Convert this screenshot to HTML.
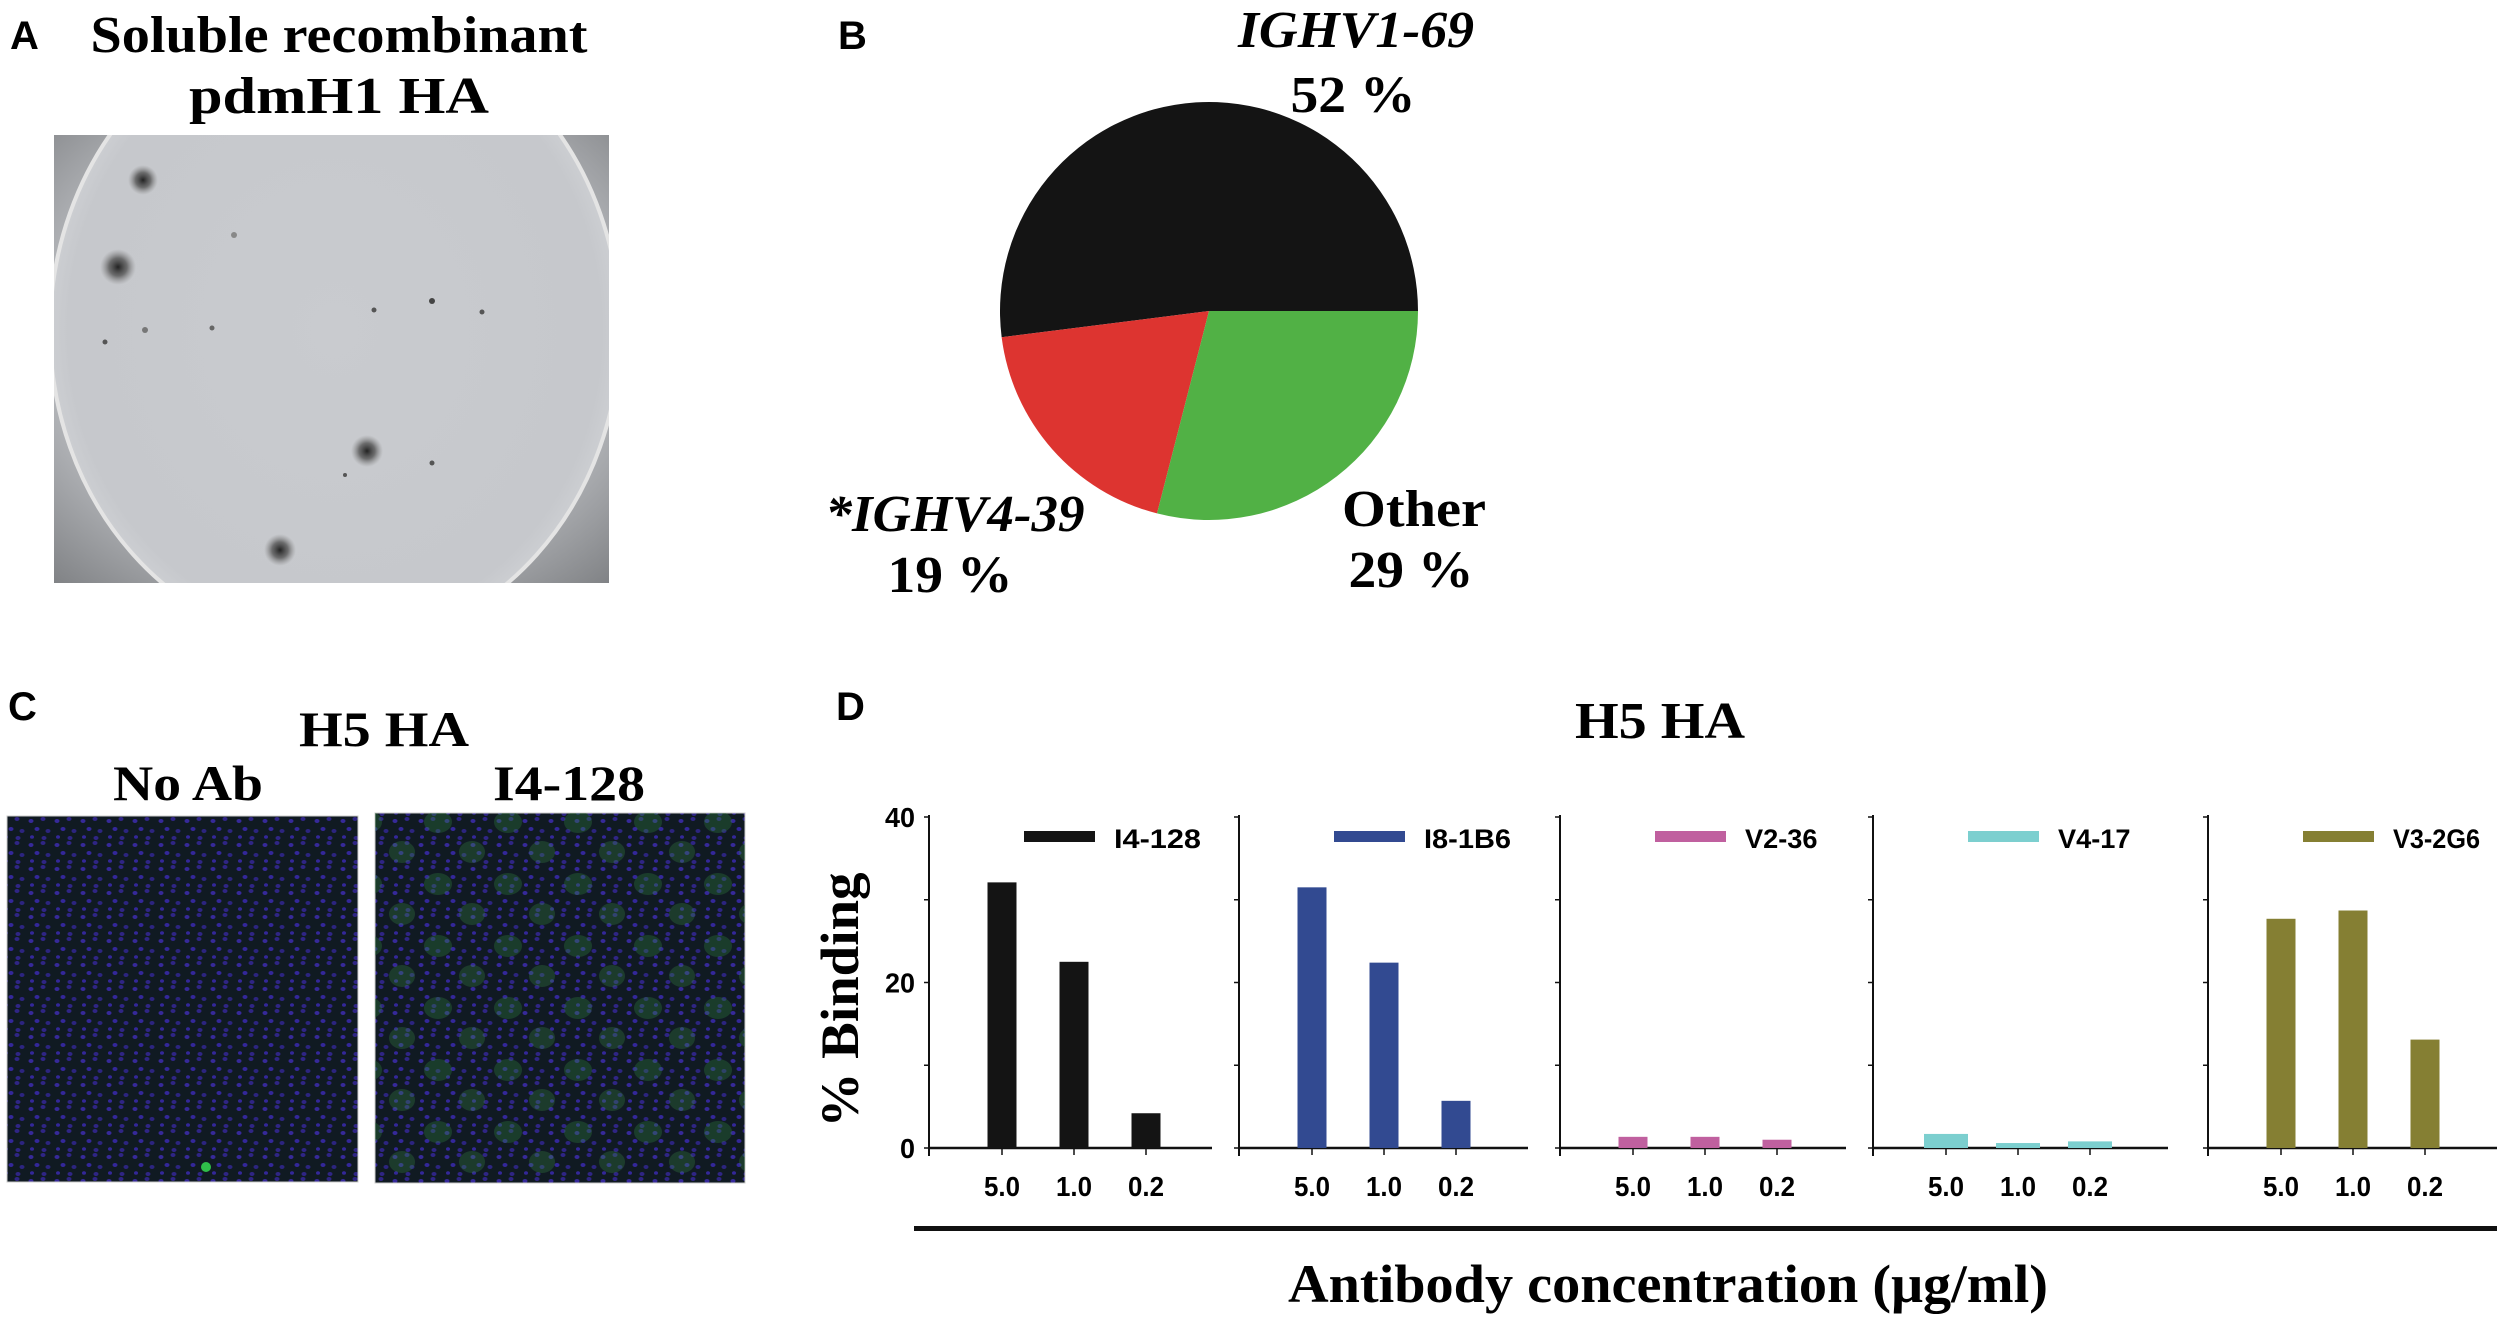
<!DOCTYPE html>
<html><head><meta charset="utf-8"><style>
html,body{margin:0;padding:0;background:#fff;}
svg{display:block;}
.serif{font-family:"Liberation Serif",serif;font-weight:bold;}
.sans{font-family:"Liberation Sans",sans-serif;font-weight:bold;}
</style></head><body>
<svg id="fig" width="2500" height="1317" viewBox="0 0 2500 1317" xmlns="http://www.w3.org/2000/svg">
<defs>
<radialGradient id="spot"><stop offset="0" stop-color="#222"/><stop offset="0.5" stop-color="#555" stop-opacity="0.8"/><stop offset="1" stop-color="#888" stop-opacity="0"/></radialGradient>
<radialGradient id="plate" cx="0.5" cy="0.5" r="0.55"><stop offset="0" stop-color="#c9cbcf"/><stop offset="0.85" stop-color="#c6c8cc"/><stop offset="1" stop-color="#d6d8db"/></radialGradient>
<radialGradient id="bgph" cx="0.5" cy="0.45" r="0.75"><stop offset="0.6" stop-color="#c0c2c6"/><stop offset="1" stop-color="#7f8184"/></radialGradient>
<clipPath id="photoClip"><rect x="54" y="135" width="555" height="448"/></clipPath>
<pattern id="nuclei" width="26" height="24" patternUnits="userSpaceOnUse">
<rect width="26" height="24" fill="#101a22"/>
<ellipse cx="5" cy="5" rx="2.5" ry="2" fill="#36299a"/><ellipse cx="17" cy="3" rx="2.5" ry="2" fill="#2f2585"/>
<ellipse cx="11" cy="13" rx="2.5" ry="2" fill="#33279a"/><ellipse cx="22" cy="15" rx="2.5" ry="2" fill="#2c2480"/>
<ellipse cx="6" cy="21" rx="2" ry="1.8" fill="#33279a"/><ellipse cx="18" cy="22" rx="2.5" ry="2" fill="#2f2585"/>
</pattern>
<pattern id="green" width="70" height="62" patternUnits="userSpaceOnUse">
<ellipse cx="18" cy="16" rx="14" ry="11" fill="#2f7a3c" opacity="0.35"/>
<ellipse cx="52" cy="46" rx="13" ry="11" fill="#3a8a44" opacity="0.3"/>
</pattern>
</defs>

<!-- Panel A -->
<text class="sans" x="10" y="49" font-size="40">A</text>
<text class="serif" x="339" y="52" font-size="52" text-anchor="middle" textLength="497" lengthAdjust="spacingAndGlyphs">Soluble recombinant</text>
<text class="serif" x="339" y="113" font-size="52" text-anchor="middle" textLength="300" lengthAdjust="spacingAndGlyphs">pdmH1 HA</text>
<g clip-path="url(#photoClip)">
<rect x="54" y="135" width="555" height="448" fill="url(#bgph)"/>
<ellipse cx="335" cy="330" rx="285" ry="318" fill="url(#plate)" stroke="#e4e4e4" stroke-width="4"/>
<circle cx="143" cy="180" r="15" fill="url(#spot)"/>
<circle cx="118" cy="267" r="18" fill="url(#spot)"/>
<circle cx="367" cy="451" r="16" fill="url(#spot)"/>
<circle cx="280" cy="550" r="16" fill="url(#spot)"/>
<circle cx="432" cy="301" r="3" fill="#444"/><circle cx="374" cy="310" r="2.5" fill="#555"/><circle cx="482" cy="312" r="2.5" fill="#555"/>
<circle cx="105" cy="342" r="2.5" fill="#555"/><circle cx="212" cy="328" r="2.5" fill="#666"/><circle cx="145" cy="330" r="3" fill="#777"/>
<circle cx="432" cy="463" r="2.5" fill="#555"/><circle cx="345" cy="475" r="2" fill="#555"/><circle cx="234" cy="235" r="3" fill="#888"/>
</g>

<!-- Panel B -->
<text class="sans" x="838" y="49" font-size="40">B</text>
<g id="pie"></g>
<text class="serif" x="1356" y="47" font-size="52" font-style="italic" text-anchor="middle" textLength="236" lengthAdjust="spacingAndGlyphs">IGHV1-69</text>
<text class="serif" x="1353" y="112" font-size="52" text-anchor="middle" textLength="125" lengthAdjust="spacingAndGlyphs">52 %</text>
<text class="serif" x="955" y="531" font-size="52" font-style="italic" text-anchor="middle" textLength="259" lengthAdjust="spacingAndGlyphs">*IGHV4-39</text>
<text class="serif" x="950" y="592" font-size="52" text-anchor="middle" textLength="125" lengthAdjust="spacingAndGlyphs">19 %</text>
<text class="serif" x="1414" y="526" font-size="52" text-anchor="middle" textLength="144" lengthAdjust="spacingAndGlyphs">Other</text>
<text class="serif" x="1411" y="587" font-size="52" text-anchor="middle" textLength="125" lengthAdjust="spacingAndGlyphs">29 %</text>

<!-- Panel C -->
<text class="sans" x="8" y="720" font-size="40">C</text>
<text class="serif" x="384" y="746" font-size="50" text-anchor="middle" textLength="170" lengthAdjust="spacingAndGlyphs">H5 HA</text>
<text class="serif" x="188" y="800" font-size="50" text-anchor="middle" textLength="150" lengthAdjust="spacingAndGlyphs">No Ab</text>
<text class="serif" x="569" y="800" font-size="50" text-anchor="middle" textLength="152" lengthAdjust="spacingAndGlyphs">I4-128</text>
<g>
<rect x="7" y="816" width="351" height="366" fill="url(#nuclei)" stroke="#ccc" stroke-width="1"/>
<circle cx="206" cy="1167" r="5" fill="#2fbf4a"/>
</g>
<g>
<rect x="375" y="813" width="370" height="370" fill="url(#nuclei)" stroke="#ccc" stroke-width="1"/>
<rect x="375" y="813" width="370" height="370" fill="url(#green)"/>
</g>

<!-- Panel D -->
<text class="sans" x="836" y="720" font-size="40">D</text>
<text class="serif" x="1660" y="738" font-size="52" text-anchor="middle" textLength="170" lengthAdjust="spacingAndGlyphs">H5 HA</text>
<text class="serif" transform="translate(858,1000) rotate(-90)" font-size="54" text-anchor="middle" textLength="255" lengthAdjust="spacingAndGlyphs">% Binding</text>
<g id="chart"></g>
<rect x="914" y="1226" width="1583" height="5" fill="#111"/>
<text class="serif" x="1668" y="1302" font-size="54" text-anchor="middle" textLength="760" lengthAdjust="spacingAndGlyphs">Antibody concentration (μg/ml)</text>
</svg>
<script>
const NS = "http://www.w3.org/2000/svg";
// Pie data
const pieLabels = ["IGHV1-69", "IGHV4-39", "Other"];
const pieValues = [52, 19, 29];
const pieColors = ["#141414", "#dd3430", "#51b145"];
// Bar chart data
const antibodies = ["I4-128", "I8-1B6", "V2-36", "V4-17", "V3-2G6"];
const concentrations = ["5.0", "1.0", "0.2"];
const binding_I4_128 = [32.1, 22.5, 4.2];
const binding_I8_1B6 = [31.5, 22.4, 5.7];
const binding_V2_36 = [1.35, 1.35, 1.0];
const binding_V4_17 = [1.7, 0.6, 0.8];
const binding_V3_2G6 = [27.7, 28.7, 13.1];
const yTicks = [0, 20, 40];
const seriesValues = [binding_I4_128, binding_I8_1B6, binding_V2_36, binding_V4_17, binding_V3_2G6];
const seriesColors = ["#141414", "#324a91", "#c0609f", "#7ccfcf", "#857f33"];

function mk(tag, attrs, parent){const e=document.createElementNS(NS,tag);for(const k in attrs)e.setAttribute(k,attrs[k]);parent.appendChild(e);return e;}

// Pie
(function(){
  const g=document.getElementById('pie');
  const cx=1209, cy=311, r=209;
  const total=pieValues.reduce((a,b)=>a+b,0);
  let a0=0;
  pieValues.forEach((v,i)=>{
    const a1=a0+v/total*360;
    const p0=[cx+r*Math.cos(a0*Math.PI/180), cy-r*Math.sin(a0*Math.PI/180)];
    const p1=[cx+r*Math.cos(a1*Math.PI/180), cy-r*Math.sin(a1*Math.PI/180)];
    const large=(a1-a0)>180?1:0;
    const p=mk('path',{d:`M${cx},${cy} L${p0[0]},${p0[1]} A${r},${r} 0 ${large} 0 ${p1[0]},${p1[1]} Z`,fill:pieColors[i]},g);
    
    
    a0=a1;
  });
})();

// Bars
(function(){
  const g=document.getElementById('chart');
  const axisX=[929,1239,1560,1873,2208];
  const axisEnd=[1212,1528,1846,2168,2497];
  const barW=[29,29,29,44,29];
  const offs=[73,145,217];
  const base=1148, top=817, ymax=40;
  const y=v=>base-(v/ymax)*(base-top);
  antibodies.forEach((ab,p)=>{
    const ax=axisX[p];
    const pg=mk('g',{},g);
    
    
    const yl=mk('line',{x1:ax,y1:top-2,x2:ax,y2:base+8,stroke:'#111','stroke-width':2},pg);
    
    
    const xl=mk('line',{x1:ax,y1:base,x2:axisEnd[p],y2:base,stroke:'#111','stroke-width':2.5},pg);
    
    
    for(let t=0;t<=ymax;t+=10){mk('line',{x1:ax-5,y1:y(t),x2:ax,y2:y(t),stroke:'#111','stroke-width':1.5},pg);}
    if(p===0){
      yTicks.forEach(t=>{
        const tl=mk('text',{x:ax-14,y:y(t)+10,'font-size':28,'text-anchor':'end',class:'sans',textLength:String(t).length*15,lengthAdjust:'spacingAndGlyphs'},pg);
        tl.textContent=t;
        
        
      });
    }
    seriesValues[p].forEach((v,i)=>{
      const cx=ax+offs[i];
      const b=mk('rect',{x:cx-barW[p]/2,y:y(v),width:barW[p],height:base-y(v),fill:seriesColors[p]},pg);
      
      
      mk('line',{x1:cx,y1:base,x2:cx,y2:base+7,stroke:'#111','stroke-width':1.5},pg);
      const tl=mk('text',{x:cx,y:1196,'font-size':28,'text-anchor':'middle',class:'sans',textLength:36,lengthAdjust:'spacingAndGlyphs'},pg);
      tl.textContent=concentrations[i];
      
      
    });
    const sw=mk('rect',{x:ax+95,y:831,width:71,height:11,fill:seriesColors[p]},pg);
    
    
    const lt=mk('text',{x:ax+185,y:848,'font-size':27,class:'sans',textLength:ab.length*14.5,lengthAdjust:'spacingAndGlyphs'},pg);
    lt.textContent=ab;
    
    
  });
})();
</script>
</body></html>
